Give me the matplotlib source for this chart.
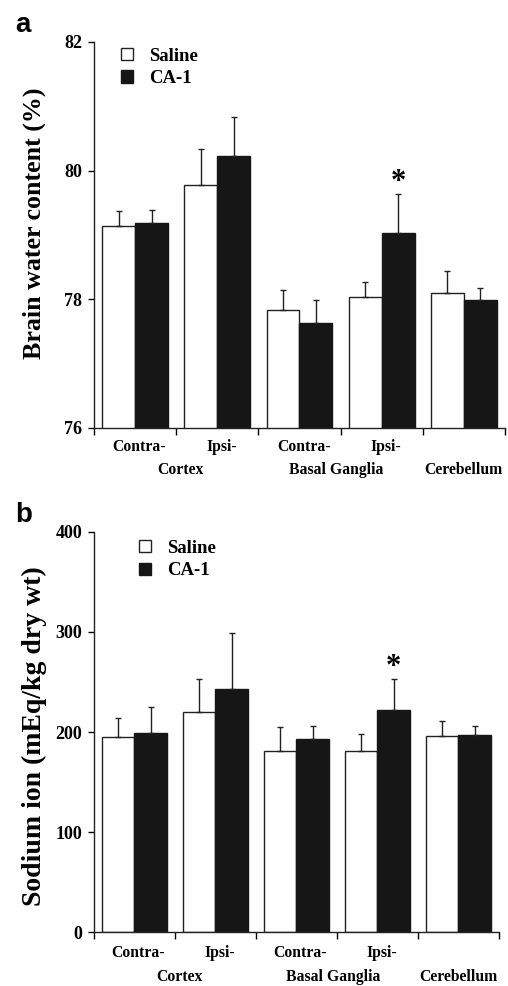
import numpy as np
import matplotlib
matplotlib.use("Agg")
import matplotlib.pyplot as plt

plt.rcParams['font.family'] = ['Liberation Serif', 'DejaVu Serif']
plt.rcParams['font.weight'] = 'bold'

# regions along the x axis (two lines of labels)
region_top = ["Contra-", "Ipsi-", "Contra-", "Ipsi-"]
region_bottom = ["Cortex", "Basal Ganglia", "Cerebellum"]
series_names = ["Saline", "CA-1"]

# panel a: brain water content (%)
water_saline = [79.14, 79.77, 77.84, 78.04, 78.10]
water_saline_err = [0.23, 0.57, 0.30, 0.23, 0.34]
water_ca1 = [79.19, 80.23, 77.63, 79.03, 77.99]
water_ca1_err = [0.20, 0.60, 0.36, 0.61, 0.19]
water_ticks = [76, 78, 80, 82]

# panel b: sodium ion (mEq/kg dry wt)
sodium_saline = [195, 220, 181, 181, 196]
sodium_saline_err = [19, 33, 24, 17, 15]
sodium_ca1 = [199, 243, 193, 222, 197]
sodium_ca1_err = [26, 56, 13, 31, 9]
sodium_ticks = [0, 100, 200, 300, 400]

signif_group = 3  # Ipsi- basal ganglia, CA-1 bar


def draw_panel(ax, saline, saline_err, ca1, ca1_err, ticks, ylabel, ylab_size, ylab_xy,
               leg_xy, text_y):
    x = np.arange(len(saline))
    err_kw = dict(ecolor='#222222', elinewidth=1.0, capsize=2.5, capthick=1.0)
    ax.bar(x + 0.1, saline, width=0.4, align='edge',
           color='white', edgecolor='#222222', linewidth=1.0, label=series_names[0])
    ax.bar(x + 0.5, ca1, width=0.4, align='edge',
           color='#161616', edgecolor='#161616', linewidth=1.0, label=series_names[1])
    ax.errorbar(x + 0.3, saline, yerr=[np.zeros(len(x)), saline_err], fmt='none', **err_kw)
    ax.errorbar(x + 0.7, ca1, yerr=[np.zeros(len(x)), ca1_err], fmt='none', **err_kw)

    ax.set_ylim(ticks[0], ticks[-1])
    ax.set_xlim(0, len(x))
    ax.set_yticks(ticks)
    ax.set_xticks(np.arange(len(x) + 1))
    ax.set_xticklabels([])
    ax.tick_params(axis='y', direction='out', length=4, width=1.0, labelsize=13, pad=4.5)
    ax.tick_params(axis='x', direction='out', length=5, width=1.0)
    for s in ['top', 'right']:
        ax.spines[s].set_visible(False)
    for s in ['left', 'bottom']:
        ax.spines[s].set_linewidth(1.0)
        ax.spines[s].set_color('#222222')

    ax.set_ylabel(ylabel, fontsize=ylab_size, fontweight='bold')
    ax.yaxis.set_label_coords(*ylab_xy)

    # region labels
    trans = ax.get_xaxis_transform()
    for i, lab in enumerate(region_top):
        ax.text(i + 0.55, text_y[0], lab, transform=trans, ha='center', va='center', fontsize=11.3)
    for pos, lab in zip([1.05, 2.95, 4.5], region_bottom):
        ax.text(pos, text_y[1], lab, transform=trans, ha='center', va='center', fontsize=11.3)

    # significance marker
    top = ca1[signif_group] + ca1_err[signif_group]
    ax.annotate('*', xy=(signif_group + 0.7, top), xytext=(0, -2), textcoords='offset points',
                ha='center', va='bottom', fontsize=22)

    ax.legend(loc='upper left', bbox_to_anchor=leg_xy, frameon=False, fontsize=13.5,
              handlelength=0.65, handleheight=0.65, handletextpad=0.85, labelspacing=0.3,
              borderpad=0, borderaxespad=0)


fig = plt.figure(figsize=(5.08, 9.86), dpi=100)
ax1 = fig.add_axes([0.185, 0.566, 0.809, 0.3915])
ax2 = fig.add_axes([0.185, 0.0545, 0.797, 0.4062])

draw_panel(ax1, water_saline, water_saline_err, water_ca1, water_ca1_err, water_ticks,
           "Brain water content (%)", 18.7, (-0.117, 0.53), (0.065, 0.985), (-0.05, -0.11))
draw_panel(ax2, sodium_saline, sodium_saline_err, sodium_ca1, sodium_ca1_err, sodium_ticks,
           "Sodium ion (mEq/kg dry wt)", 20, (-0.116, 0.49), (0.11, 0.98), (-0.052, -0.112))

fig.text(0.03, 0.9675, 'a', fontsize=20, fontweight='bold', family='Liberation Sans', va='baseline')
fig.text(0.03, 0.4706, 'b', fontsize=20, fontweight='bold', family='Liberation Sans', va='baseline')

fig.savefig('out.png', dpi=100)
